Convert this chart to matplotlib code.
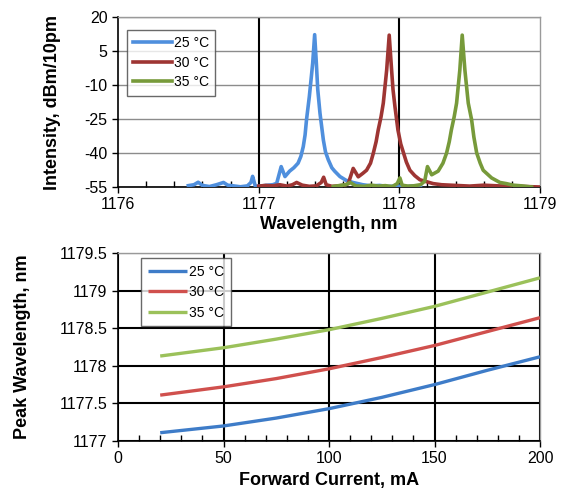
import matplotlib
matplotlib.use("Agg")
import matplotlib.pyplot as plt
from matplotlib.ticker import MultipleLocator, FuncFormatter

plt.rcParams['font.family'] = ['Liberation Sans', 'DejaVu Sans']
plt.rcParams['axes.unicode_minus'] = False

# ---------------- data: spectra (top) ----------------
wl_25 = [1176.50, 1176.54, 1176.57, 1176.60, 1176.65, 1176.70, 1176.75, 1176.78, 1176.82,
         1176.87, 1176.92, 1176.945, 1176.957, 1176.976, 1177.00, 1177.05, 1177.10, 1177.128,
         1177.16, 1177.187, 1177.22, 1177.25, 1177.28, 1177.30, 1177.317, 1177.33, 1177.34,
         1177.36, 1177.375, 1177.384, 1177.398, 1177.41, 1177.42, 1177.436, 1177.46, 1177.475,
         1177.495, 1177.52, 1177.54, 1177.578, 1177.62, 1177.67, 1177.74, 1177.80, 1177.86,
         1177.92, 1177.98, 1178.04, 1178.10, 1178.15]
int_25 = [-54.4, -54.0, -52.9, -54.3, -54.8, -54.0, -53.0, -54.2, -54.5,
          -54.9, -54.5, -53.0, -50.3, -54.6, -54.7, -54.3, -54.0, -53.4,
          -46.0, -50.4, -48.0, -46.5, -44.5, -41.5, -37.2, -32.0, -25.4,
          -15.2, -6.0, -0.4, 12.2, -0.4, -12.0, -22.5, -34.3, -39.5,
          -43.0, -46.5, -48.0, -50.4, -52.0, -53.0, -54.0, -54.5, -54.3,
          -54.8, -54.5, -54.9, -54.5, -55.0]

wl_30 = [1177.00, 1177.05, 1177.10, 1177.15, 1177.20, 1177.24, 1177.27, 1177.31, 1177.36,
         1177.41, 1177.445, 1177.462, 1177.48, 1177.52, 1177.57, 1177.61, 1177.637, 1177.672,
         1177.708, 1177.74, 1177.767, 1177.795, 1177.815, 1177.835, 1177.85, 1177.87, 1177.886,
         1177.91, 1177.928, 1177.945, 1177.955, 1177.969, 1177.99, 1178.01, 1178.03, 1178.05,
         1178.075, 1178.11, 1178.146, 1178.24, 1178.30, 1178.40, 1178.50, 1178.60, 1178.70,
         1178.80, 1178.90, 1179.00]
int_30 = [-54.6, -54.3, -54.5, -54.0, -54.6, -54.0, -53.0, -54.2, -54.7,
          -54.5, -53.0, -50.7, -54.0, -54.7, -54.5, -54.2, -53.5, -46.8,
          -50.5, -49.0, -47.6, -44.5, -40.1, -35.0, -29.8, -24.0, -18.0,
          -3.4, 12.0, -3.4, -12.0, -19.6, -29.8, -36.0, -40.0, -44.0,
          -47.6, -50.0, -51.8, -53.5, -54.0, -54.3, -54.6, -54.2, -54.5,
          -54.6, -54.8, -55.0]

wl_35 = [1177.53, 1177.58, 1177.62, 1177.65, 1177.69, 1177.75, 1177.80, 1177.85, 1177.90,
         1177.95, 1177.985, 1178.004, 1178.02, 1178.06, 1178.10, 1178.15, 1178.18, 1178.20,
         1178.23, 1178.276, 1178.31, 1178.336, 1178.355, 1178.37, 1178.39, 1178.407, 1178.43,
         1178.447, 1178.466, 1178.49, 1178.514, 1178.53, 1178.55, 1178.575, 1178.596, 1178.656,
         1178.715, 1178.76, 1178.81, 1178.87, 1178.94]
int_35 = [-54.8, -54.3, -54.0, -53.0, -54.5, -54.7, -54.2, -54.6, -54.4,
          -54.8, -53.5, -51.0, -54.2, -54.6, -54.5, -54.0, -52.5, -46.0,
          -49.6, -48.0, -44.5, -40.0, -35.0, -29.8, -24.0, -18.0, -3.4,
          12.0, -3.4, -18.0, -25.4, -33.0, -40.0, -44.5, -47.6, -51.0,
          -53.0, -53.5, -54.2, -54.5, -55.0]

# ---------------- data: peak wavelength vs current (bottom) ----------------
current = [20, 50, 75, 100, 125, 150, 175, 200]
peak_25 = [1177.11, 1177.20, 1177.305, 1177.43, 1177.58, 1177.75, 1177.94, 1178.12]
peak_30 = [1177.61, 1177.72, 1177.83, 1177.96, 1178.11, 1178.27, 1178.455, 1178.64]
peak_35 = [1178.13, 1178.24, 1178.355, 1178.48, 1178.63, 1178.79, 1178.98, 1179.17]

labels = ['25 °C', '30 °C', '35 °C']
top_yticks = [20, 5, -10, -25, -40, -55]
top_colors = ['#4F8FDD', '#9E3533', '#779A3A']
bot_colors = ['#3E7CC8', '#D0504D', '#9BC15A']

fig = plt.figure(figsize=(5.68, 4.91), dpi=100)
W, H = 568.0, 491.0
ax1 = fig.add_axes([118 / W, 1 - 187 / H, 422 / W, 170 / H])
ax2 = fig.add_axes([118 / W, 1 - 441 / H, 422 / W, 188 / H])

tick_fs = 11.5
label_fs = 13

def style_axes(ax):
    for s in ['top', 'right']:
        ax.spines[s].set_color('#9A9A9A')
        ax.spines[s].set_linewidth(1.0)
    for s in ['left', 'bottom']:
        ax.spines[s].set_color('black')
        ax.spines[s].set_linewidth(1.2)
    ax.tick_params(axis='both', which='major', direction='out', length=4, width=1,
                   labelsize=tick_fs, colors='black')
    ax.tick_params(axis='x', which='minor', direction='in', length=4, width=1)
    ax.tick_params(axis='y', which='minor', left=False)
    ax.set_axisbelow(True)

# ---- top chart ----
for wl, it, lab, c in zip([wl_25, wl_30, wl_35], [int_25, int_30, int_35], labels, top_colors):
    ax1.plot(wl, it, color=c, lw=2.6, label=lab, solid_joinstyle='round', zorder=3)
ax1.set_xlim(1176, 1179)
ax1.set_ylim(-55, 20)
ax1.xaxis.set_major_locator(MultipleLocator(1))
ax1.xaxis.set_minor_locator(MultipleLocator(0.2))
ax1.set_yticks(top_yticks)
style_axes(ax1)
ax1.grid(axis='y', which='major', color='#8C8C8C', lw=1.0)
for xv in [1177, 1178]:
    ax1.axvline(xv, color='black', lw=1.5, zorder=1)
ax1.xaxis.set_major_formatter(FuncFormatter(lambda v, p: '%d' % round(v)))
ax1.yaxis.set_major_formatter(FuncFormatter(lambda v, p: '%d' % round(v)))
ax1.set_xlabel('Wavelength, nm', fontsize=label_fs, fontweight='bold')
ax1.xaxis.set_label_coords(0.5, -0.17)
ax1.set_ylabel('Intensity, dBm/10pm', fontsize=label_fs, fontweight='bold')
ax1.yaxis.set_label_coords(-0.135, 0.5)
leg1 = ax1.legend(loc='upper left', bbox_to_anchor=(0.021, 0.924), borderaxespad=0,
                  fontsize=10, frameon=True, fancybox=False, handlelength=2.8,
                  handletextpad=0.15, labelspacing=0.4, borderpad=0.45)
leg1.get_frame().set_edgecolor('#444444')
leg1.get_frame().set_linewidth(1.0)

# ---- bottom chart ----
for pk, lab, c in zip([peak_25, peak_30, peak_35], labels, bot_colors):
    ax2.plot(current, pk, color=c, lw=2.4, label=lab, solid_capstyle='butt', zorder=3)
ax2.set_xlim(0, 200)
ax2.set_ylim(1177, 1179.5)
ax2.xaxis.set_major_locator(MultipleLocator(50))
ax2.xaxis.set_minor_locator(MultipleLocator(10))
ax2.yaxis.set_major_locator(MultipleLocator(0.5))
style_axes(ax2)
ax2.grid(which='major', color='black', lw=1.5)
ax2.yaxis.set_major_formatter(FuncFormatter(lambda v, p: '%g' % v))
ax2.set_xlabel('Forward Current, mA', fontsize=label_fs, fontweight='bold')
ax2.xaxis.set_label_coords(0.5, -0.165)
ax2.set_ylabel('Peak Wavelength, nm', fontsize=label_fs, fontweight='bold')
ax2.yaxis.set_label_coords(-0.205, 0.5)
leg2 = ax2.legend(loc='upper left', bbox_to_anchor=(0.0545, 0.973), borderaxespad=0,
                  fontsize=10, frameon=True, fancybox=False, handlelength=2.8,
                  handletextpad=0.15, labelspacing=0.45, borderpad=0.5)
leg2.get_frame().set_edgecolor('#444444')
leg2.get_frame().set_linewidth(1.0)

fig.savefig('out.png', dpi=100, facecolor='white')
